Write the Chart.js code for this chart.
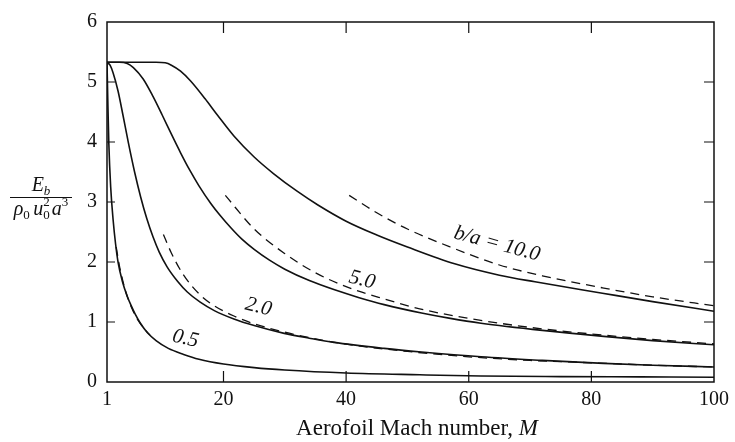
<!DOCTYPE html>
<html><head><meta charset="utf-8">
<script src="https://cdn.jsdelivr.net/npm/chart.js@4.4.0/dist/chart.umd.min.js"></script>
<style>html,body{margin:0;padding:0;background:#fff}#wrap{width:735px;height:442px}</style>
</head><body><div id="wrap"><canvas id="c" width="735" height="442"></canvas></div>
<script>
// Tick values
const xTicks = [1, 20, 40, 60, 80, 100];
const yTicks = [0, 1, 2, 3, 4, 5, 6];
const xTicksMinor = [20, 40, 60, 80];

// b/a = 10.0 solid
const m10 = [1, 5, 9, 10.5, 11.5, 13, 14.6, 17, 19, 21.7, 25, 28.2, 32, 35.4, 40, 45, 50, 57.7, 65, 70.8, 81.8, 90, 100];
const e10 = [5.33, 5.33, 5.33, 5.32, 5.28, 5.18, 5.02, 4.72, 4.45, 4.1, 3.75, 3.47, 3.18, 2.95, 2.68, 2.45, 2.25, 1.97, 1.78, 1.67, 1.48, 1.34, 1.18];
// b/a = 10.0 dashed
const m10d = [40.5, 45, 50, 57, 65, 72, 81.8, 90, 100];
const e10d = [3.11, 2.82, 2.55, 2.25, 1.95, 1.77, 1.57, 1.42, 1.27];

// b/a = 5.0 solid
const m5 = [1, 3, 4.3, 5.3, 6.9, 8.5, 10, 11.5, 13, 14.5, 16, 17.9, 19.5, 21.2, 23, 25, 27.5, 30, 34, 38, 42, 46.2, 52.3, 57, 62, 72, 82, 90, 100];
const e5 = [5.33, 5.33, 5.31, 5.24, 5.05, 4.76, 4.45, 4.13, 3.82, 3.53, 3.27, 2.98, 2.77, 2.57, 2.38, 2.21, 2.03, 1.88, 1.69, 1.54, 1.41, 1.29, 1.15, 1.06, 0.98, 0.86, 0.76, 0.69, 0.62];
// b/a = 5.0 dashed
const m5d = [20.3, 25, 30, 35, 40, 46, 52, 60, 70, 80, 90, 100];
const e5d = [3.11, 2.55, 2.14, 1.82, 1.59, 1.39, 1.22, 1.06, 0.91, 0.80, 0.71, 0.635];

// b/a = 2.0 solid
const m2 = [1, 1.5, 2, 2.8, 3.6, 4.5, 5.5, 6.5, 7.5, 8.5, 9.5, 10.8, 12.5, 14.1, 16.2, 18.5, 21.7, 25, 29.9, 34, 38, 46.2, 52.3, 62, 72, 82, 90, 100];
const e2 = [5.33, 5.28, 5.15, 4.85, 4.45, 3.98, 3.5, 3.08, 2.72, 2.42, 2.17, 1.92, 1.68, 1.5, 1.33, 1.19, 1.05, 0.94, 0.81, 0.73, 0.66, 0.56, 0.5, 0.42, 0.36, 0.31, 0.28, 0.25];
// b/a = 2.0 dashed
const m2d = [10.2, 11.5, 13.5, 16.2, 18.5, 21.7, 25, 30, 35, 40, 50, 60, 70, 80, 90, 100];
const e2d = [2.46, 2.15, 1.78, 1.45, 1.27, 1.10, 0.97, 0.83, 0.72, 0.63, 0.51, 0.42, 0.36, 0.32, 0.28, 0.25];

// b/a = 0.5 solid
const m05 = [1, 1.15, 1.3, 1.6, 2, 2.4, 2.8, 3.5, 4.3, 5, 5.6, 6.5, 7.6, 9, 11, 13.5, 16, 20, 25, 30, 40, 52, 62, 75, 88, 100];
const e05 = [5.33, 4.6, 3.97, 3.25, 2.7, 2.3, 2.0, 1.68, 1.43, 1.26, 1.13, 0.97, 0.82, 0.69, 0.56, 0.46, 0.38, 0.30, 0.24, 0.20, 0.15, 0.12, 0.10, 0.09, 0.085, 0.08];
// b/a = 0.5 dashed
const m05d = [2.5, 3, 3.5, 4, 5, 6, 7, 8];
const e05d = [2.25, 1.95, 1.72, 1.52, 1.24, 1.04, 0.9, 0.78];

// Curve labels and their anchor points (data coordinates)
const labelTexts = ['0.5', '2.0', '5.0', 'b/a = 10.0'];
const labelM = [13.8, 25.7, 42.6, 64.6];
const labelE = [0.72, 1.25, 1.70, 2.30];
const labelAngle = [13, 14, 14, 15];

const pts = (xs, ys) => xs.map((x, i) => ({x: x, y: ys[i]}));
const INK = '#111';
const SERIF = '"Liberation Serif", "DejaVu Serif", serif';

function solid(label, xs, ys) {
  return {label, data: pts(xs, ys), borderColor: INK, borderWidth: 1.6, pointRadius: 0,
    fill: false, cubicInterpolationMode: 'monotone'};
}
function dashed(label, xs, ys) {
  return {label, data: pts(xs, ys), borderColor: INK, borderWidth: 1.3, borderDash: [9, 6],
    pointRadius: 0, fill: false, cubicInterpolationMode: 'monotone'};
}

function drawRuns(ctx, runs, cx, baseY) {
  const widths = runs.map(r => { ctx.font = r.f; return ctx.measureText(r.t).width; });
  let w = 0;
  runs.forEach((r, i) => { w += (r.adv !== undefined ? r.adv : widths[i]); });
  let x = cx - w / 2;
  runs.forEach((r, i) => {
    ctx.font = r.f;
    ctx.fillText(r.t, x, baseY + (r.dy || 0));
    x += (r.adv !== undefined ? r.adv : widths[i]);
  });
}

const decor = {
  id: 'decor',
  afterDraw(chart) {
    const ctx = chart.ctx;
    const a = chart.chartArea;
    const xs = chart.scales.x, ys = chart.scales.y;
    ctx.save();
    ctx.strokeStyle = INK;
    ctx.fillStyle = INK;
    ctx.lineWidth = 1.5;
    ctx.strokeRect(a.left, a.top, a.right - a.left, a.bottom - a.top);
    ctx.lineWidth = 1.2;
    ctx.beginPath();
    yTicks.forEach(v => {
      const y = ys.getPixelForValue(v);
      if (v === 0 || v === 6) return;
      ctx.moveTo(a.left, y); ctx.lineTo(a.left + 8, y);
      ctx.moveTo(a.right, y); ctx.lineTo(a.right - 10, y);
    });
    xTicksMinor.forEach(v => {
      const x = xs.getPixelForValue(v);
      ctx.moveTo(x, a.bottom); ctx.lineTo(x, a.bottom - 11);
      ctx.moveTo(x, a.top); ctx.lineTo(x, a.top + 11);
    });
    ctx.stroke();

    // curve labels
    ctx.textAlign = 'center';
    ctx.textBaseline = 'middle';
    labelTexts.forEach((t, i) => {
      const x = xs.getPixelForValue(labelM[i]);
      const y = ys.getPixelForValue(labelE[i]);
      ctx.save();
      ctx.translate(x, y);
      ctx.rotate(labelAngle[i] * Math.PI / 180);
      ctx.font = 'italic 21px ' + SERIF;
      ctx.fillText(t, 0, 0);
      ctx.restore();
    });

    // x title
    ctx.textAlign = 'left';
    ctx.textBaseline = 'alphabetic';
    drawRuns(ctx, [
      {t: 'Aerofoil Mach number, ', f: '23px ' + SERIF},
      {t: 'M', f: 'italic 23px ' + SERIF}
    ], 417, 435);

    // y title (fraction)
    const fx = 41;
    drawRuns(ctx, [
      {t: 'E', f: 'italic 20px ' + SERIF},
      {t: 'b', f: 'italic 13px ' + SERIF, dy: 4}
    ], fx, 191);
    ctx.lineWidth = 1;
    ctx.beginPath();
    ctx.moveTo(10, 197.5); ctx.lineTo(72, 197.5);
    ctx.stroke();
    drawRuns(ctx, [
      {t: 'ρ', f: 'italic 20px ' + SERIF},
      {t: '0', f: '13px ' + SERIF, dy: 4},
      {t: ' ', f: '14px ' + SERIF},
      {t: 'u', f: 'italic 20px ' + SERIF},
      {t: '2', f: '13px ' + SERIF, dy: -9, adv: 0},
      {t: '0', f: '13px ' + SERIF, dy: 4},
      {t: ' ', f: '8px ' + SERIF},
      {t: 'a', f: 'italic 20px ' + SERIF},
      {t: '3', f: '13px ' + SERIF, dy: -9}
    ], fx, 215);
    ctx.restore();
  }
};

new Chart(document.getElementById('c'), {
  type: 'line',
  data: {
    datasets: [
      solid('b/a = 10.0', m10, e10), dashed('b/a = 10.0 asymptote', m10d, e10d),
      solid('5.0', m5, e5), dashed('5.0 asymptote', m5d, e5d),
      solid('2.0', m2, e2), dashed('2.0 asymptote', m2d, e2d),
      solid('0.5', m05, e05), dashed('0.5 asymptote', m05d, e05d)
    ]
  },
  options: {
    responsive: false,
    animation: false,
    devicePixelRatio: 1,
    layout: {padding: {top: 16, right: 18, left: 0, bottom: 0}},
    plugins: {legend: {display: false}, tooltip: {enabled: false}},
    scales: {
      x: {
        type: 'linear', min: 1, max: 100,
        afterBuildTicks: s => { s.ticks = xTicks.map(v => ({value: v})); },
        afterFit: s => { s.height = 60; },
        grid: {display: false, drawTicks: false},
        border: {display: false},
        ticks: {font: {family: SERIF, size: 20}, color: INK, padding: 6, maxRotation: 0, autoSkip: false}
      },
      y: {
        type: 'linear', min: 0, max: 6,
        afterBuildTicks: s => { s.ticks = yTicks.map(v => ({value: v})); },
        afterFit: s => { s.width = 107; },
        grid: {display: false, drawTicks: false},
        border: {display: false},
        ticks: {font: {family: SERIF, size: 20}, color: INK, padding: 10}
      }
    }
  },
  plugins: [decor]
});
</script>
</body></html>
